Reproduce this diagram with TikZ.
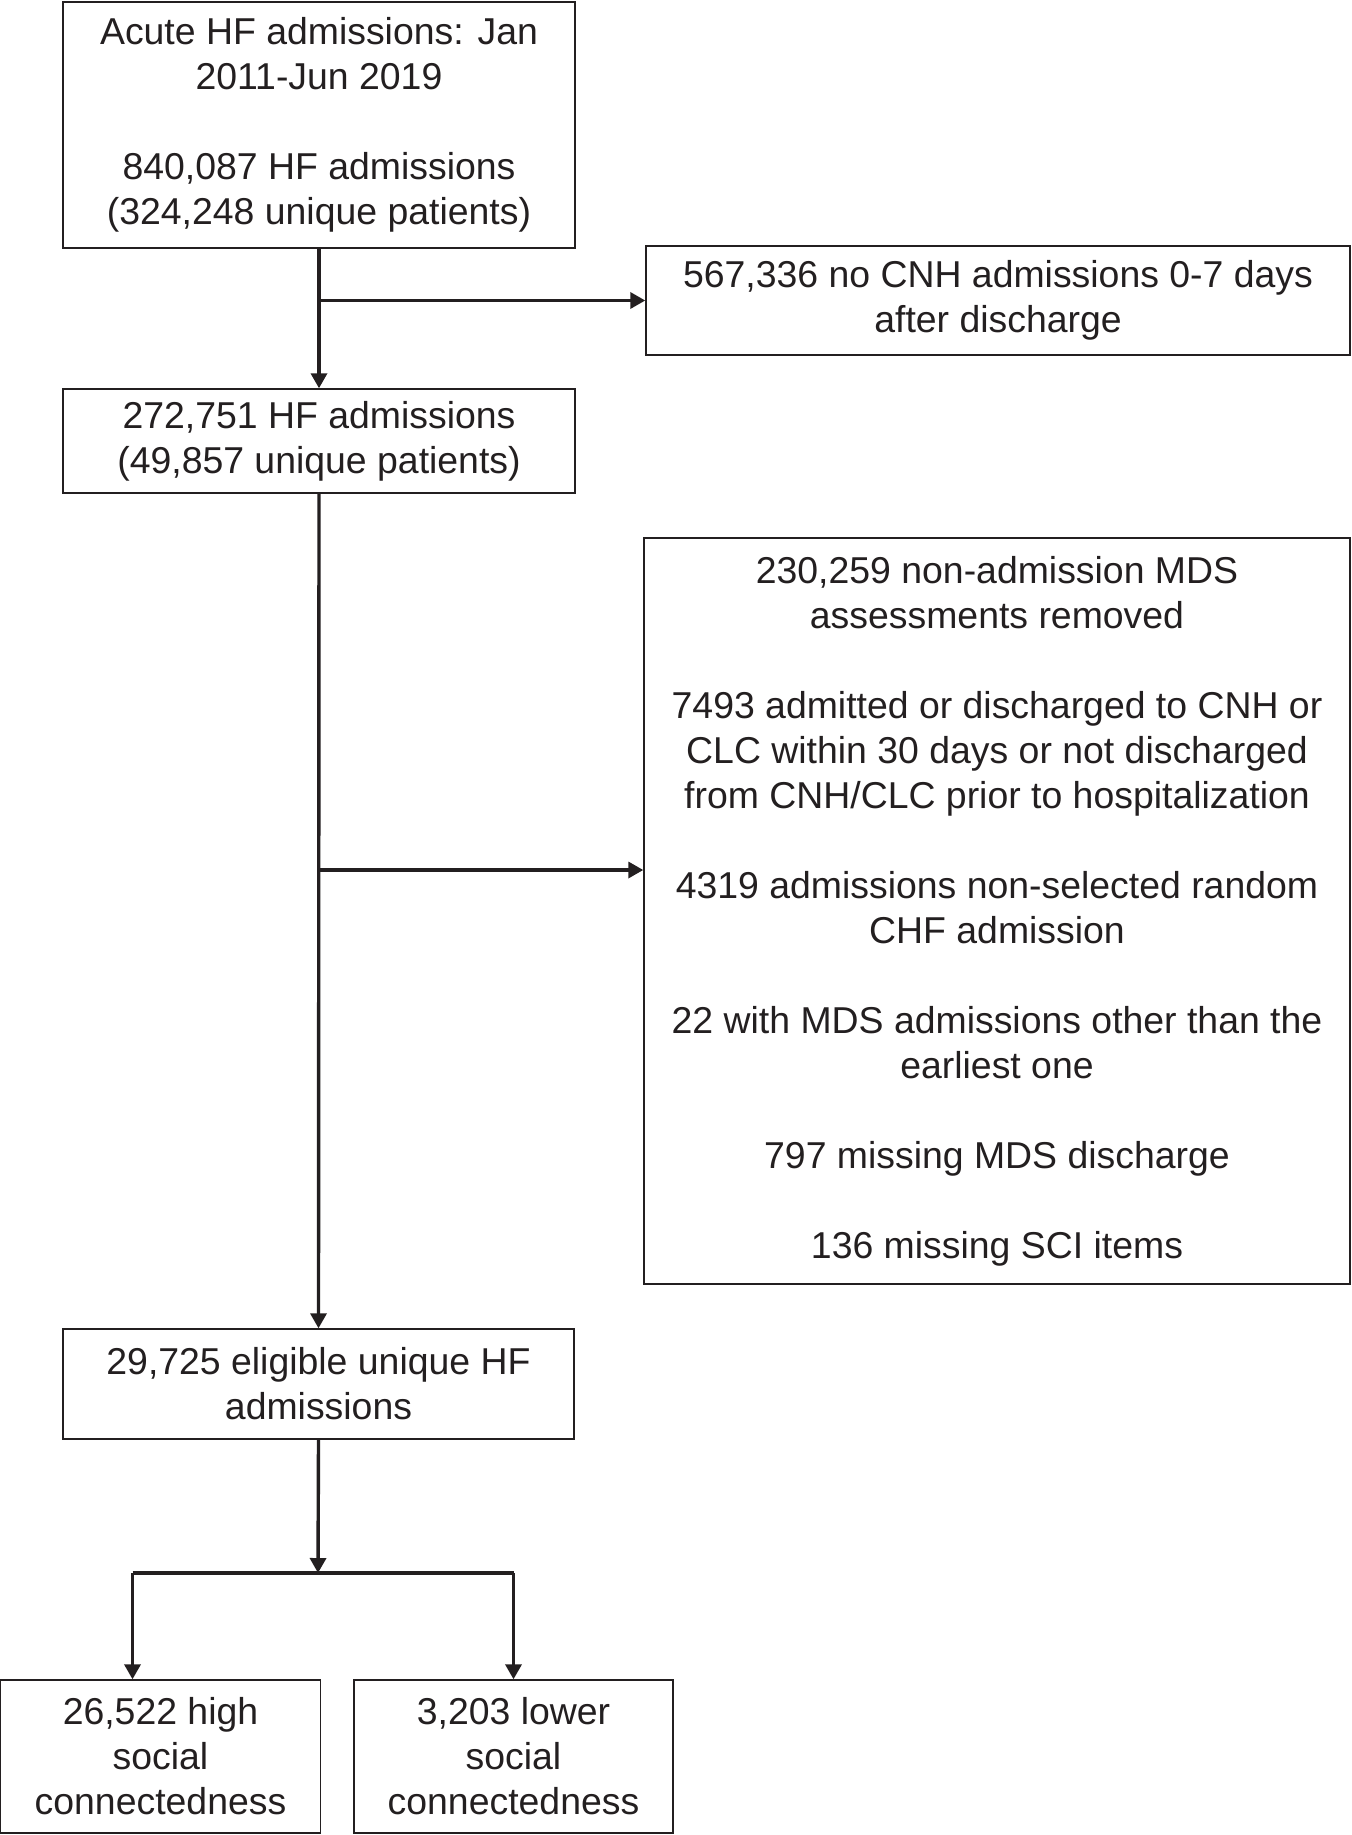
\documentclass[tikz,border=0pt]{standalone}
\usepackage{fontspec}
\setmainfont{Liberation Sans}
\usetikzlibrary{arrows.meta, calc}
\definecolor{ink}{RGB}{35,31,32}
\tikzset{
  box/.style={draw=ink, line width=0.7pt, fill=white, align=center, inner sep=0pt,
    text=ink, minimum width=#1, font=\fontsize{18.7}{22.5}\selectfont},
  box/.default=256pt,
  flow/.style={draw=ink, line width=1.7pt, -{Triangle[length=7.5pt, width=8pt]}},
  splitline/.style={draw=ink, line width=1.7pt},
}

\begin{document}
\begin{tikzpicture}[x=0.5pt, y=-0.5pt]
\useasboundingbox (0,0) rectangle (1352,1835);

% ── Cohort ──────────────────────────────────────────────────
\node[box, minimum height=123pt] (adm) at (319,125)
  {Acute HF admissions: Jan\\2011-Jun 2019\\[22.5pt]840,087 HF admissions\\(324,248 unique patients)};
\node[box, minimum height=52pt] (hf) at (319,441)
  {272,751 HF admissions\\(49,857 unique patients)};
\node[box=255.5pt, minimum height=55pt] (elig) at (318.5,1384)
  {29,725 eligible unique HF\\admissions};

% ── Exclusions ──────────────────────────────────────────────
\node[box=352pt, minimum height=54.5pt] (nocnh) at (998,300.5)
  {567,336 no CNH admissions 0-7 days\\after discharge};
\node[box=353pt, minimum height=373pt] (excl) at (997,911)
  {230,259 non-admission MDS\\assessments removed\\[22.5pt]
   7493 admitted or discharged to CNH or\\CLC within 30 days or not discharged\\from CNH/CLC prior to hospitalization\\[22.5pt]
   4319 admissions non-selected random\\CHF admission\\[22.5pt]
   22 with MDS admissions other than the\\earliest one\\[22.5pt]
   797 missing MDS discharge\\[22.5pt]
   136 missing SCI items};

% ── Groups ──────────────────────────────────────────────────
\node[box=160pt, minimum height=76.5pt] (high) at (160.5,1756.5)
  {26,522 high\\social\\connectedness};
\node[box=159.5pt, minimum height=76.5pt] (low) at (513.5,1756.5)
  {3,203 lower\\social\\connectedness};

\coordinate (split) at (318,1573);
\coordinate (exin) at ([yshift=20.5pt]excl.west);
\coordinate (hin) at ([xshift=-14pt]high.north);

% ── Arrows ──────────────────────────────────────────────────
\draw[flow] (adm.south) -- (hf.north);
\draw[flow] (adm.south |- nocnh.west) -- (nocnh.west);
\draw[flow] (hf.south) -- (elig.north);
\draw[flow] (hf.south |- exin) -- (exin);
\draw[flow] (elig.south) -- (split);
\draw[splitline] (hin |- split) -- (low.north |- split);
\draw[flow] (hin |- split) -- (hin);
\draw[flow] (low.north |- split) -- (low.north);

\end{tikzpicture}
\end{document}
